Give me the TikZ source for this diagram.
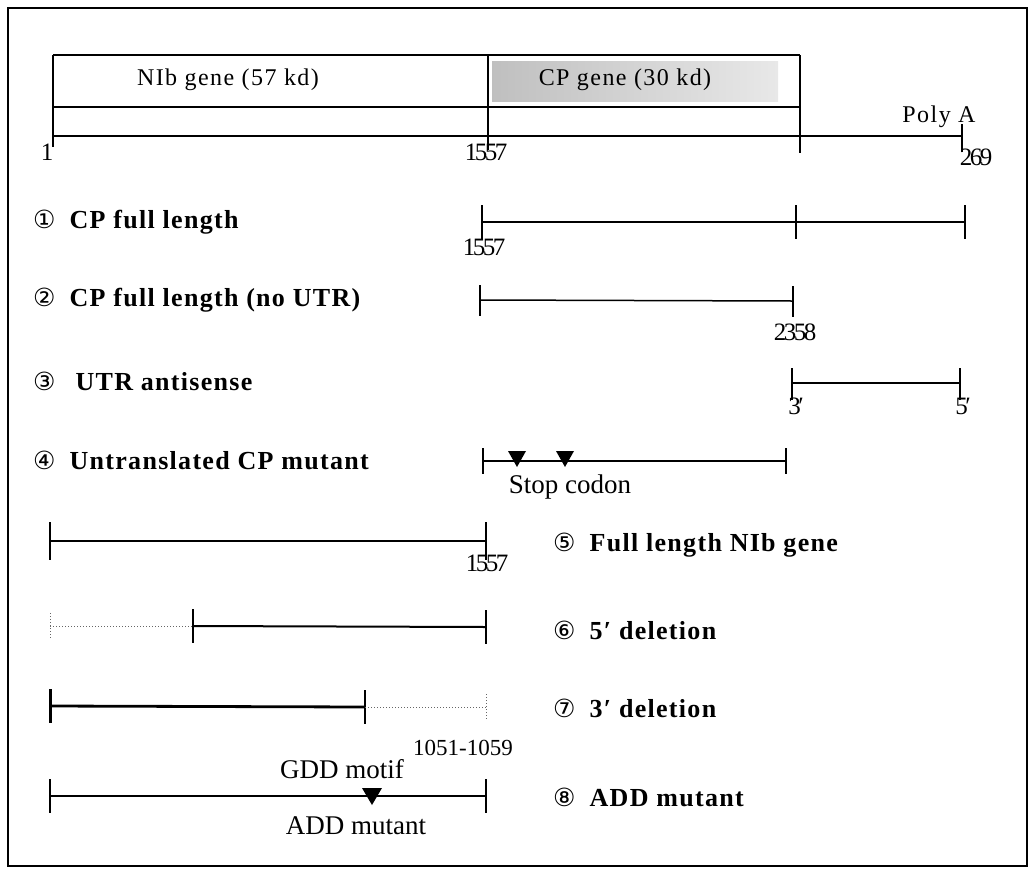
\documentclass[tikz,border=0pt]{standalone}
\usepackage{fontspec}
\setmainfont{Liberation Serif}
\newfontfamily\labfont[LetterSpace=5]{Liberation Serif}
\newfontfamily\barfont[LetterSpace=6]{Liberation Serif}
\newfontfamily\numfont[LetterSpace=-10]{Liberation Serif}
\newfontfamily\circfont{DejaVu Sans}
\begin{document}
\begin{tikzpicture}[x=1pt,y=-1pt]
\tikzset{
  frameline/.style={line width=1.4pt},
  barline/.style={line width=2.4pt},
  segA/.style={line width=2.8pt},
  segB/.style={line width=2pt},
  segC/.style={line width=1.5pt},
  tickmark/.style={line width=2.2pt},
  dotseg/.style={line width=1pt, dotted, black!60},
  lab/.style={anchor=west, inner sep=0pt, font=\labfont\bfseries\fontsize{26}{30}\selectfont},
  numlab/.style={inner sep=0pt, font=\numfont\fontsize{25}{28}\selectfont},
  txt/.style={inner sep=0pt, font=\fontsize{27}{30}\selectfont},
  smalltxt/.style={inner sep=0pt, font=\fontsize{23}{26}\selectfont},
  barlab/.style={inner sep=0pt, font=\barfont\fontsize{24}{28}\selectfont},
  stopmark/.style={fill=black}
}
\newcommand\cnum[1]{{\circfont\mdseries\fontsize{25}{28}\selectfont #1}\hspace{14pt}}
\useasboundingbox (0,0) rectangle (1031,871);
% frame
\draw[frameline] (8,8) rectangle (1027,866);

% ---------- genome bar ----------
\shade[left color=gray!50, right color=gray!18] (492,61) rectangle (778,101);
\coordinate (tl) at (53,55);
\coordinate (tm) at (488,55);
\coordinate (tr) at (800,55);
\coordinate (ml) at (53,107);
\coordinate (mr) at (800,107);
\coordinate (bl) at (53,136);
\coordinate (pa) at (962,136);
\coordinate (l1) at (53,147);
\coordinate (m1) at (488,150);
\coordinate (r1) at (800,153);
\draw[barline] (tl) -- (tr);
\draw[barline] (ml) -- (mr);
\draw[barline] (bl) -- (pa);
\draw[barline] (tl) -- (l1);
\draw[barline] (tm) -- (m1);
\draw[barline] (tr) -- (r1);
\draw[tickmark] ([yshift=12pt]pa) -- ([yshift=-16pt]pa);
\node[barlab] (nib) at (228,80) {NIb gene (57 kd)};
\node[barlab] (cpg) at (625,80) {CP gene (30 kd)};
\node[barlab] (polya) at (939,117) {Poly A};
\node[numlab] (n1) at (47,152) {1};
\node[numlab] (n1557) at (486,152) {1557};
\node[numlab] (n269) at (976,157) {269};

% ---------- row 1 ----------
\node[lab] (L1) at (33,222) {\cnum{①}CP full length};
\coordinate (a1) at (482,222);
\coordinate (a2) at (796,222);
\coordinate (a3) at (965,222);
\draw[segA] (a1) -- (a2);
\draw[segB] (a2) -- (a3);
\foreach \c in {a1,a2,a3}{\draw[tickmark] ([yshift=17pt]\c) -- ([yshift=-17pt]\c);}
\node[numlab] (r1n) at (484,247) {1557};

% ---------- row 2 ----------
\node[lab] (L2) at (33,300) {\cnum{②}CP full length (no UTR)};
\coordinate (b1) at (480,300);
\coordinate (b2) at (793,301);
\draw[segC] (b1) -- (b2);
\foreach \c in {b1,b2}{\draw[tickmark] ([yshift=15pt]\c) -- ([yshift=-16pt]\c);}
\node[numlab] (r2n) at (795,332) {2358};

% ---------- row 3 ----------
\node[lab] (L3) at (33,381) {\cnum{③}\hspace{6pt}UTR antisense};
\coordinate (c1) at (792,383);
\coordinate (c2) at (960,383);
\draw[segB] (c1) -- (c2);
\foreach \c in {c1,c2}{\draw[tickmark] ([yshift=15pt]\c) -- ([yshift=-17pt]\c);}
\node[numlab] (r3a) at (796,406) {3′};
\node[numlab] (r3b) at (963,406) {5′};

% ---------- row 4 ----------
\node[lab] (L4) at (33,460) {\cnum{④}Untranslated CP mutant};
\coordinate (d1) at (483,461);
\coordinate (s1) at (517,461);
\coordinate (s2) at (565,461);
\coordinate (d2) at (786,461);
\draw[segC] (d1) -- (s2);
\draw[segB] (s2) -- (d2);
\foreach \c in {d1,d2}{\draw[tickmark] ([yshift=13pt]\c) -- ([yshift=-13pt]\c);}
\foreach \c in {s1,s2}{\fill[stopmark] ([shift={(-9pt,10pt)}]\c) -- ([shift={(9pt,10pt)}]\c) -- ([shift={(0pt,-6pt)}]\c) -- cycle;}
\node[txt] (stop) at (570,487) {Stop codon};

% ---------- row 5 ----------
\node[lab] (L5) at (553,545) {\cnum{⑤}Full length NIb gene};
\coordinate (e1) at (50,541);
\coordinate (e2) at (486,541);
\draw[segA] (e1) -- (e2);
\foreach \c in {e1,e2}{\draw[tickmark] ([yshift=19pt]\c) -- ([yshift=-19pt]\c);}
\node[numlab] (r5n) at (487,563) {1557};

% ---------- row 6 ----------
\node[lab] (L6) at (553,630) {\cnum{⑥}5′ deletion};
\coordinate (f1) at (50,626);
\coordinate (f2) at (193,626);
\coordinate (f3) at (486,627);
\draw[dotseg] (f1) -- (f2);
\draw[dotseg] ([yshift=13pt]f1) -- ([yshift=-13pt]f1);
\draw[segB] (f2) -- (f3);
\foreach \c in {f2,f3}{\draw[tickmark] ([yshift=17pt]\c) -- ([yshift=-17pt]\c);}

% ---------- row 7 ----------
\node[lab] (L7) at (553,708) {\cnum{⑦}3′ deletion};
\coordinate (g1) at (50,706);
\coordinate (g2) at (365,707);
\coordinate (g3) at (486,707);
\draw[segA] (g1) -- (g2);
\draw[line width=3pt] ([yshift=17pt]g1) -- ([yshift=-17pt]g1);
\draw[tickmark] ([yshift=17pt]g2) -- ([yshift=-17pt]g2);
\draw[dotseg] (g2) -- (g3);
\draw[dotseg] ([yshift=13pt]g3) -- ([yshift=-13pt]g3);

% ---------- row 8 ----------
\node[lab] (L8) at (553,797) {\cnum{⑧}ADD mutant};
\coordinate (h1) at (50,796);
\coordinate (hm) at (372,796);
\coordinate (h2) at (486,796);
\draw[segB] (h1) -- (h2);
\foreach \c in {h1,h2}{\draw[tickmark] ([yshift=17pt]\c) -- ([yshift=-17pt]\c);}
\fill[stopmark] ([shift={(-10pt,8pt)}]hm) -- ([shift={(10pt,8pt)}]hm) -- ([shift={(0pt,-9pt)}]hm) -- cycle;
\node[txt] (gdd) at (342,769) {GDD motif};
\node[smalltxt] (pos) at (463,748) {1051-1059};
\node[txt] (addm) at (356,826) {ADD mutant};
\end{tikzpicture}
\end{document}
